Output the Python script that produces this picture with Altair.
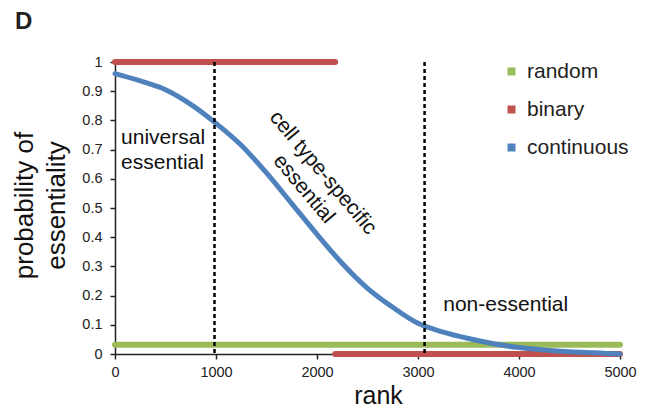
import altair as alt
import pandas as pd

# ---- data ----
cont_rank = [0, 250, 500, 750, 1000, 1250, 1500, 1750, 2000, 2250, 2500,
             2750, 3000, 3250, 3500, 3750, 4000, 4250, 4500, 4750, 5000]
cont_prob = [0.96, 0.935, 0.905, 0.855, 0.79, 0.715, 0.62, 0.515, 0.41, 0.31, 0.225,
             0.16, 0.105, 0.075, 0.053, 0.035, 0.022, 0.014, 0.008, 0.004, 0.0]

random_rank = [0, 5000]
random_prob = [0.032, 0.032]

binary_rank = [0, 2180, 2180, 5000]
binary_prob = [1, 1, 0, 0]
binary_seg = ["top", "top", "bottom", "bottom"]

divider_rank = [985, 3065]

series_names = ["random", "binary", "continuous"]
series_colors = ["#9BBB59", "#C0504D", "#4F81BD"]

flat_text = ["universal\nessential", "non-essential"]
flat_x = [60, 3250]
flat_y = [0.741, 0.168]

tilt_text = ["cell type-specific\nessential"]
tilt_x = [2059]
tilt_y = [0.62]

x_ticks = [0, 1000, 2000, 3000, 4000, 5000]
y_ticks = [0, 0.1, 0.2, 0.3, 0.4, 0.5, 0.6, 0.7, 0.8, 0.9, 1]

# ---- tables ----
df_cont = pd.DataFrame({"rank": cont_rank, "prob": cont_prob, "series": "continuous"})
df_rand = pd.DataFrame({"rank": random_rank, "prob": random_prob, "series": "random"})
df_bin = pd.DataFrame({"rank": binary_rank, "prob": binary_prob, "series": "binary",
                       "seg": binary_seg})
df_div = pd.DataFrame({"rank": divider_rank})
df_flat = pd.DataFrame({"rank": flat_x, "prob": flat_y, "label": flat_text})
df_tilt = pd.DataFrame({"rank": tilt_x, "prob": tilt_y, "label": tilt_text})

FONT = "Liberation Sans"

x_enc = alt.X("rank:Q", scale=alt.Scale(domain=[0, 5000], nice=False),
              axis=alt.Axis(values=x_ticks, format="d", title="rank",
                            titleFontSize=25, titleFontWeight="normal",
                            titleY=49, titleX=263, titleBaseline="alphabetic",
                            labelFontSize=14.5, labelPadding=6, tickSize=5,
                            labelFlush=False, labelOverlap=False))
y_enc = alt.Y("prob:Q", scale=alt.Scale(domain=[0, 1], nice=False),
              axis=alt.Axis(values=y_ticks, format="~g",
                            title=["probability of", "essentiality"],
                            titleFontSize=26, titleFontWeight="normal",
                            titleLineHeight=32, titleX=-78, titleY=143,
                            labelFontSize=14.5, labelPadding=8, tickSize=5,
                            labelFlush=False, labelOverlap=False))
color_enc = alt.Color("series:N",
                      scale=alt.Scale(domain=series_names, range=series_colors),
                      legend=alt.Legend(title=None, orient="none", legendX=386,
                                        legendY=-1, symbolType="square",
                                        symbolSize=16, symbolStrokeWidth=4,
                                        labelFontSize=21, labelOffset=5,
                                        rowPadding=16, padding=0,
                                        labelColor="#222"))

green = alt.Chart(df_rand).mark_line(strokeWidth=6, strokeCap="round").encode(
    x=x_enc, y=y_enc, color=color_enc)
red = alt.Chart(df_bin).mark_line(strokeWidth=6, strokeCap="round").encode(
    x=x_enc, y=y_enc, color=color_enc, detail="seg:N")
blue = alt.Chart(df_cont).mark_line(strokeWidth=5, strokeCap="round",
                                    interpolate="monotone").encode(
    x=x_enc, y=y_enc, color=color_enc)
rules = alt.Chart(df_div).mark_rule(strokeDash=[4, 3], strokeWidth=2.5,
                                    color="black").encode(x=x_enc)
flat = alt.Chart(df_flat).mark_text(align="left", baseline="middle", fontSize=21,
                                    lineBreak="\n", lineHeight=25,
                                    color="#111", font=FONT).encode(
    x=x_enc, y=y_enc, text="label:N")
tilt = alt.Chart(df_tilt).mark_text(align="center", baseline="middle", fontSize=21,
                                    lineBreak="\n", lineHeight=25, angle=50,
                                    color="#111", font=FONT).encode(
    x=x_enc, y=y_enc, text="label:N")

chart = alt.layer(green, red, blue, rules, flat, tilt).properties(
    width=505, height=292,
    padding={"left": 107, "top": 54, "right": 21, "bottom": 54},
    autosize=alt.AutoSizeParams(type="none"),
    title=alt.TitleParams("D", anchor="start", frame="group", fontSize=24,
                          fontWeight="bold", font=FONT, color="#222",
                          dx=-100, dy=-16, offset=0),
).configure_view(stroke=None).configure_axis(
    grid=False, domainColor="#222", domainWidth=1.5, tickColor="#222",
    tickWidth=1.5, labelColor="#222", titleColor="#111", labelFont=FONT,
    titleFont=FONT
).configure_legend(labelFont=FONT).configure_text(font=FONT)

chart.save("out.html", embed_options={"renderer": "svg", "actions": False})
